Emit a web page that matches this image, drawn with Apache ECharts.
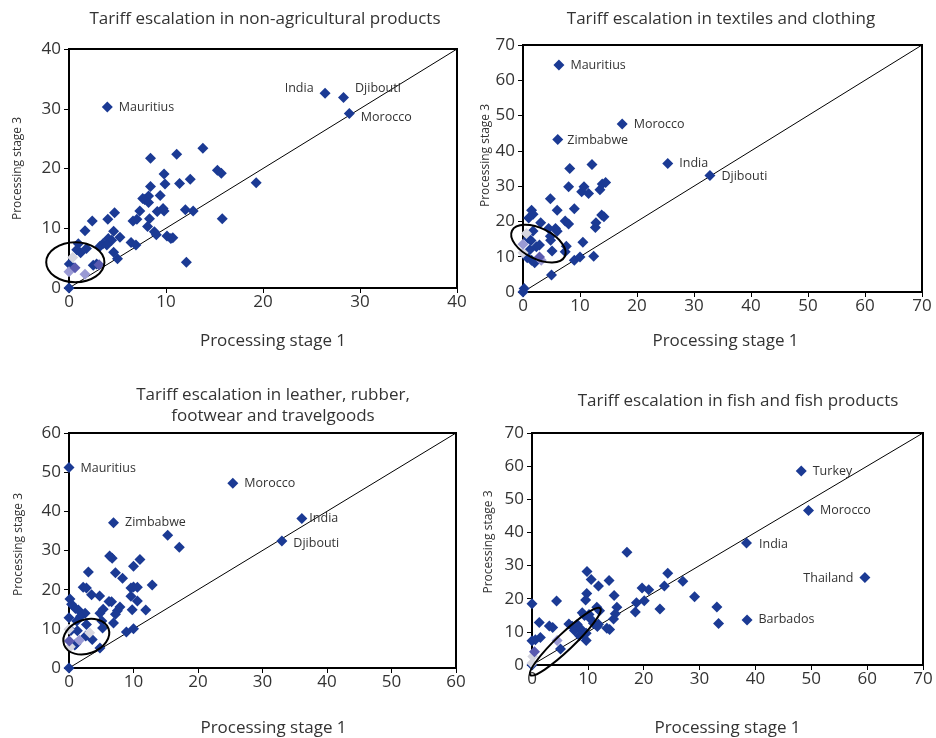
<!DOCTYPE html>
<html>
<head>
<meta charset="utf-8">
<script src="https://cdn.jsdelivr.net/npm/echarts@6/dist/echarts.min.js"></script>
<style>html,body{margin:0;padding:0;background:#fff}#chart{width:936px;height:738px}</style>
</head>
<body>
<div id="chart"></div>
<script>
// ---------------- DATA ----------------
const titles = [
  'Tariff escalation in non-agricultural products',
  'Tariff escalation in textiles and clothing',
  'Tariff escalation in leather, rubber,\nfootwear and travelgoods',
  'Tariff escalation in fish and fish products'
];
const xAxisName = 'Processing stage 1';
const yAxisName = 'Processing stage 3';
const axisMax = [40, 70, 60, 70];
const axisStep = [10, 10, 10, 10];

// Panel 1: non-agricultural products
const p1Names = ['Mauritius', 'India', 'Djibouti', 'Morocco'];
const p1Named = [[3.95,30.3],[26.4,32.6],[28.3,31.9],[28.9,29.2]];
const p1Points = [[13.8,23.4],[11.1,22.4],[8.4,21.7],[9.8,19.1],[9.9,17.4],[11.4,17.5],[12.5,18.2],[15.3,19.7],[15.7,19.2],[19.3,17.6],[8.4,17.0],[9.4,15.5],[7.8,14.8],[8.2,14.3],[8.2,15.4],[7.6,15.0],[9.1,12.8],[9.8,12.9],[9.7,13.3],[12.0,13.1],[12.8,12.9],[15.8,11.6],[7.3,12.9],[8.3,11.6],[8.1,10.3],[8.8,9.4],[9.0,8.9],[6.6,11.2],[7.0,11.5],[10.1,8.7],[10.5,8.3],[10.7,8.4],[6.4,7.6],[6.9,7.2],[12.1,4.3],[4.7,12.6],[4.0,11.5],[2.4,11.2],[1.65,9.6],[4.6,9.5],[5.25,8.5],[4.05,8.3],[4.4,8.0],[3.5,7.4],[3.2,7.0],[3.9,7.2],[4.6,6.0],[5.0,4.9],[0.96,7.4],[1.8,6.6],[0.8,6.4],[1.2,5.9],[2.85,4.0],[2.5,3.8],[0.03,4.0],[0,0]];
const p1Violet = [[3.1,3.9],[0.62,3.4]];
const p1Lavender = [[0,2.7],[1.65,2.3]];
const p1Pale = [[0.38,5.1]];
const p1Ellipse = [[0.65,4.3,3.0,2.06,0]];

// Panel 2: textiles and clothing
const p2Names = ['Mauritius', 'Morocco', 'Zimbabwe', 'India', 'Djibouti'];
const p2Named = [[6.3,64.3],[17.4,47.6],[6.1,43.2],[25.4,36.4],[32.8,33.0]];
const p2Points = [[8.2,35.0],[12.1,36.1],[8.0,29.8],[10.3,28.4],[10.7,29.8],[11.5,27.9],[13.5,29.0],[13.9,30.6],[14.5,31.0],[4.8,26.4],[6.0,23.2],[9.0,23.6],[13.8,21.8],[14.2,21.3],[12.8,19.6],[12.7,18.3],[7.4,20.1],[8.0,19.3],[1.5,23.2],[1.76,22.0],[1.0,21.0],[3.1,19.6],[4.5,18.0],[5.7,18.0],[6.0,17.2],[4.8,15.8],[1.76,17.3],[0.9,15.2],[1.4,14.6],[2.35,12.8],[2.9,13.3],[1.2,12.0],[1.5,9.0],[2.05,8.3],[0.75,9.7],[5.1,11.6],[4.85,14.7],[7.6,13.0],[7.4,11.4],[10.5,14.1],[9.0,9.0],[10.0,9.9],[12.4,10.1],[5.0,4.8],[0.2,1.0],[0,0]];
const p2Violet = [[2.9,9.9]];
const p2Lavender = [[0,13.5],[3.2,9.0]];
const p2Pale = [[0.6,16.6],[0,11.1]];
const p2Ellipse = [[2.7,13.7,5.15,2.68,-26]];

// Panel 3: leather, rubber, footwear and travelgoods
const p3Names = ['Mauritius', 'Morocco', 'Zimbabwe', 'India', 'Djibouti'];
const p3Named = [[0,51.2],[25.4,47.2],[6.9,37.1],[36.1,38.2],[33.0,32.4]];
const p3Points = [[15.3,33.9],[17.1,30.8],[6.3,28.6],[6.7,28.0],[11.0,27.7],[10.0,26.0],[3.0,24.5],[7.2,24.3],[8.3,22.9],[12.9,21.2],[2.2,20.6],[2.7,20.4],[9.6,20.4],[10.0,20.7],[10.6,20.6],[9.6,18.3],[10.6,17.1],[3.5,18.7],[4.75,18.4],[6.2,17.0],[6.6,16.9],[7.9,15.6],[7.5,14.6],[7.2,13.7],[9.8,14.9],[11.9,14.8],[5.3,15.0],[4.8,14.0],[0.15,17.6],[0.4,16.3],[1.0,15.2],[1.45,14.8],[2.5,14.0],[1.8,13.2],[0,12.8],[1.2,12.0],[6.9,11.5],[5.1,12.0],[5.2,10.2],[2.7,11.1],[1.3,9.5],[0.3,9.6],[2.6,8.2],[3.6,7.3],[1.1,6.2],[0.9,5.9],[4.8,5.1],[8.9,9.2],[10.0,10.0],[0,0]];
const p3Violet = [[0.05,6.9]];
const p3Lavender = [[1.6,7.1]];
const p3Pale = [[3.2,9.0],[0,9.9],[0.2,5.4]];
const p3Ellipse = [[2.68,8.0,3.67,2.62,20]];

// Panel 4: fish and fish products
const p4Names = ['Turkey', 'Morocco', 'India', 'Thailand', 'Barbados'];
const p4Named = [[48.2,58.5],[49.5,46.6],[38.4,36.8],[59.6,26.4],[38.5,13.6]];
const p4Points = [[17.0,34.0],[9.85,28.2],[10.6,25.8],[13.8,25.5],[11.9,23.8],[9.8,21.6],[9.6,19.6],[14.7,21.0],[24.3,27.7],[27.0,25.3],[23.7,23.8],[19.7,23.2],[20.9,22.7],[20.1,19.4],[18.7,18.8],[18.5,16.0],[22.9,16.9],[29.1,20.6],[33.1,17.5],[33.4,12.5],[0,18.5],[4.4,19.3],[15.2,17.4],[14.9,15.5],[14.6,13.9],[13.9,10.7],[13.4,11.1],[11.6,17.4],[12.1,16.4],[9.0,15.8],[9.4,14.9],[10.2,15.2],[10.4,14.0],[11.0,12.6],[11.9,12.3],[1.3,12.8],[3.1,11.8],[3.7,11.3],[6.6,12.4],[7.2,11.7],[8.1,12.2],[7.6,10.4],[8.7,10.9],[9.1,9.4],[8.5,8.8],[9.7,7.4],[9.7,9.6],[11.7,11.6],[0,7.3],[0.6,7.6],[1.5,8.3],[5.1,4.8],[0,0]];
const p4Violet = [[0.45,4.0]];
const p4Lavender = [[4.5,7.4]];
const p4Pale = [[0.15,2.6],[0,0.5]];
const p4Ellipse = [[5.96,7.03,8.65,1.5,43.6]];

// ---------------- STYLE / LAYOUT ----------------
const FONT = '"Open Sans", "Noto Sans", sans-serif';
const TXT = '#333333';
const DARK = '#1B3A94';
const VIOLET = '#5A5AB0';
const LAVENDER = '#9A9AD4';
const PALE = '#D6D6E0';

const grids = [
  {left: 69, top: 49, width: 388, height: 239},
  {left: 523, top: 45, width: 399, height: 247},
  {left: 69, top: 433, width: 387, height: 242},
  {left: 532, top: 433, width: 391, height: 239}
];
const titlePos = [[265, 19], [721, 19], [273, 406], [738, 401]];
const xNameGap = [45, 41, 52, 55];
const xNamePad = [20, 6, 22, 0];
const yNameGap = [45, 29, 44, 37];
const yNamePad = [0, 26, 12, 14];

const labelPlace = [
  {Mauritius: ['right', [0, 0]], India: ['left', [0, -5]], Djibouti: ['right', [0, -9]], Morocco: ['right', [0, 4]]},
  {Mauritius: ['right', [0, 0]], Morocco: ['right', [0, 0]], Zimbabwe: ['right', [-2, 1]], India: ['right', [0, 0]], Djibouti: ['right', [0, 1]]},
  {Mauritius: ['right', [0, 1]], Morocco: ['right', [0, 0]], Zimbabwe: ['right', [0, 0]], India: ['right', [-4, 0]], Djibouti: ['right', [0, 2]]},
  {Turkey: ['right', [0, 0]], Morocco: ['right', [0, 0]], India: ['right', [1, 1]], Thailand: ['left', [0, 1]], Barbados: ['right', [0, 0]]}
];

const panels = [
  {names: p1Names, named: p1Named, pts: p1Points, violet: p1Violet, lav: p1Lavender, pale: p1Pale, ell: p1Ellipse},
  {names: p2Names, named: p2Named, pts: p2Points, violet: p2Violet, lav: p2Lavender, pale: p2Pale, ell: p2Ellipse},
  {names: p3Names, named: p3Named, pts: p3Points, violet: p3Violet, lav: p3Lavender, pale: p3Pale, ell: p3Ellipse},
  {names: p4Names, named: p4Named, pts: p4Points, violet: p4Violet, lav: p4Lavender, pale: p4Pale, ell: p4Ellipse}
];

const xAxes = [], yAxes = [], series = [], graphics = [];
panels.forEach(function (p, i) {
  const common = {
    gridIndex: i, type: 'value', min: 0, max: axisMax[i], interval: axisStep[i],
    axisLine: {show: true, onZero: false, lineStyle: {color: '#000', width: 2}},
    axisTick: {show: true, length: 5, lineStyle: {color: '#000', width: 1}},
    splitLine: {show: false},
    axisLabel: {color: TXT, fontSize: 17, fontFamily: FONT},
    nameLocation: 'middle'
  };
  xAxes.push(Object.assign({}, common, {
    name: xAxisName, nameGap: xNameGap[i],
    axisLabel: Object.assign({}, common.axisLabel, {margin: 6}),
    nameTextStyle: {color: TXT, fontSize: 17, fontFamily: FONT, padding: [0, 0, 0, xNamePad[i]]}
  }));
  yAxes.push(Object.assign({}, common, {
    name: yAxisName, nameGap: yNameGap[i],
    axisLabel: Object.assign({}, common.axisLabel, {margin: 8}),
    nameTextStyle: {color: TXT, fontSize: 12, fontFamily: FONT, padding: [0, 0, 0, yNamePad[i]]}
  }));

  series.push({
    type: 'line', xAxisIndex: i, yAxisIndex: i, silent: true, symbol: 'none', z: 1,
    data: [[0, 0], [axisMax[i], axisMax[i]]],
    lineStyle: {color: '#000', width: 1}
  });
  const sc = {type: 'scatter', xAxisIndex: i, yAxisIndex: i, symbol: 'diamond', symbolSize: 11, clip: false, z: 2};
  series.push(Object.assign({}, sc, {data: p.pts, itemStyle: {color: DARK, opacity: 1}}));
  series.push(Object.assign({}, sc, {data: p.pale, itemStyle: {color: PALE, opacity: 1}}));
  series.push(Object.assign({}, sc, {data: p.lav, itemStyle: {color: LAVENDER, opacity: 1}}));
  series.push(Object.assign({}, sc, {data: p.violet, itemStyle: {color: VIOLET, opacity: 1}}));
  series.push(Object.assign({}, sc, {
    itemStyle: {color: DARK, opacity: 1},
    data: p.named.map(function (v, k) {
      const pl = labelPlace[i][p.names[k]];
      return {name: p.names[k], value: v, label: {position: pl[0], offset: pl[1]}};
    }),
    label: {show: true, formatter: '{b}', color: TXT, fontSize: 12.5, fontFamily: FONT, distance: 6}
  }));
  series.push({
    type: 'custom', xAxisIndex: i, yAxisIndex: i, silent: true, z: 3, clip: false,
    data: p.ell,
    encode: {x: 0, y: 1},
    renderItem: function (params, api) {
      const c = api.coord([api.value(0), api.value(1)]);
      const ux = api.size([1, 0])[0];
      return {
        type: 'ellipse', x: c[0], y: c[1], rotation: api.value(4) * Math.PI / 180,
        shape: {cx: 0, cy: 0, rx: api.value(2) * ux, ry: api.value(3) * ux},
        style: {fill: null, stroke: '#000', lineWidth: 2}
      };
    }
  });
  graphics.push({
    type: 'text', x: titlePos[i][0], y: titlePos[i][1],
    style: {text: titles[i], fill: TXT, font: '17px ' + FONT, textAlign: 'center', textVerticalAlign: 'middle', lineHeight: 21}
  });
});

const chart = echarts.init(document.getElementById('chart'), null, {renderer: 'canvas'});
chart.setOption({
  backgroundColor: '#fff',
  animation: false,
  grid: grids.map(function (g) { return Object.assign({show: true, borderColor: '#000', borderWidth: 2, backgroundColor: 'transparent', containLabel: false}, g); }),
  xAxis: xAxes,
  yAxis: yAxes,
  series: series,
  graphic: graphics
});
</script>
</body>
</html>
